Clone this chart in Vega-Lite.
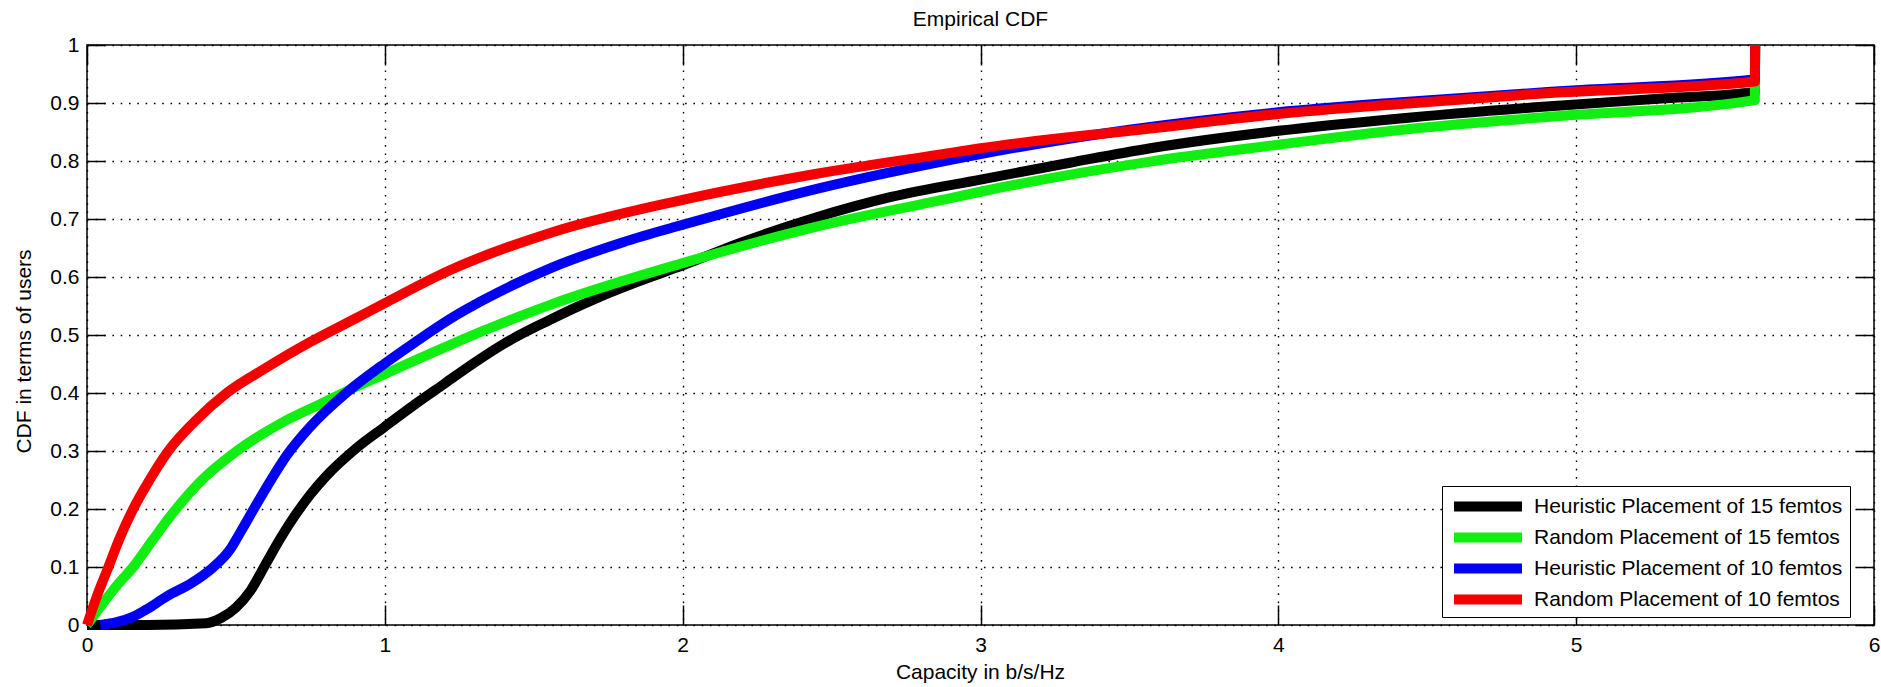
{
  "$schema": "https://vega.github.io/schema/vega-lite/v6.json",
  "autosize": "none",
  "width": 1787,
  "height": 580,
  "padding": {"left": 87, "top": 45, "right": 7, "bottom": 62},
  "background": "white",
  "config": {
    "view": {"stroke": "black", "strokeWidth": 1.5},
    "font": "Liberation Sans"
  },
  "data": {"values": [
    {"s": "Heuristic Placement of 15 femtos", "x": 0, "y": 0},
    {"s": "Heuristic Placement of 15 femtos", "x": 0.2, "y": 0},
    {"s": "Heuristic Placement of 15 femtos", "x": 0.4, "y": 0.003},
    {"s": "Heuristic Placement of 15 femtos", "x": 0.45, "y": 0.012},
    {"s": "Heuristic Placement of 15 femtos", "x": 0.5, "y": 0.03},
    {"s": "Heuristic Placement of 15 femtos", "x": 0.55, "y": 0.06},
    {"s": "Heuristic Placement of 15 femtos", "x": 0.6, "y": 0.105},
    {"s": "Heuristic Placement of 15 femtos", "x": 0.65, "y": 0.15},
    {"s": "Heuristic Placement of 15 femtos", "x": 0.7, "y": 0.19},
    {"s": "Heuristic Placement of 15 femtos", "x": 0.75, "y": 0.225},
    {"s": "Heuristic Placement of 15 femtos", "x": 0.8, "y": 0.255},
    {"s": "Heuristic Placement of 15 femtos", "x": 0.9, "y": 0.303},
    {"s": "Heuristic Placement of 15 femtos", "x": 1.0, "y": 0.342},
    {"s": "Heuristic Placement of 15 femtos", "x": 1.1, "y": 0.38},
    {"s": "Heuristic Placement of 15 femtos", "x": 1.2, "y": 0.416},
    {"s": "Heuristic Placement of 15 femtos", "x": 1.3, "y": 0.452},
    {"s": "Heuristic Placement of 15 femtos", "x": 1.4, "y": 0.485},
    {"s": "Heuristic Placement of 15 femtos", "x": 1.55, "y": 0.525},
    {"s": "Heuristic Placement of 15 femtos", "x": 1.7, "y": 0.561},
    {"s": "Heuristic Placement of 15 femtos", "x": 1.85, "y": 0.592},
    {"s": "Heuristic Placement of 15 femtos", "x": 2.0, "y": 0.62},
    {"s": "Heuristic Placement of 15 femtos", "x": 2.2, "y": 0.66},
    {"s": "Heuristic Placement of 15 femtos", "x": 2.45, "y": 0.703},
    {"s": "Heuristic Placement of 15 femtos", "x": 2.7, "y": 0.738},
    {"s": "Heuristic Placement of 15 femtos", "x": 3.0, "y": 0.768},
    {"s": "Heuristic Placement of 15 femtos", "x": 3.3, "y": 0.797},
    {"s": "Heuristic Placement of 15 femtos", "x": 3.57, "y": 0.822},
    {"s": "Heuristic Placement of 15 femtos", "x": 4.0, "y": 0.852},
    {"s": "Heuristic Placement of 15 femtos", "x": 4.4, "y": 0.873},
    {"s": "Heuristic Placement of 15 femtos", "x": 4.9, "y": 0.894},
    {"s": "Heuristic Placement of 15 femtos", "x": 5.3, "y": 0.908},
    {"s": "Heuristic Placement of 15 femtos", "x": 5.6, "y": 0.919},
    {"s": "Heuristic Placement of 15 femtos", "x": 5.601, "y": 1},
    {"s": "Random Placement of 15 femtos", "x": 0, "y": 0},
    {"s": "Random Placement of 15 femtos", "x": 0.05, "y": 0.035},
    {"s": "Random Placement of 15 femtos", "x": 0.1, "y": 0.068},
    {"s": "Random Placement of 15 femtos", "x": 0.155, "y": 0.1},
    {"s": "Random Placement of 15 femtos", "x": 0.22, "y": 0.146},
    {"s": "Random Placement of 15 femtos", "x": 0.279, "y": 0.187},
    {"s": "Random Placement of 15 femtos", "x": 0.38, "y": 0.247},
    {"s": "Random Placement of 15 femtos", "x": 0.503, "y": 0.3},
    {"s": "Random Placement of 15 femtos", "x": 0.648, "y": 0.347},
    {"s": "Random Placement of 15 femtos", "x": 0.8, "y": 0.385},
    {"s": "Random Placement of 15 femtos", "x": 0.9, "y": 0.41},
    {"s": "Random Placement of 15 femtos", "x": 1.0, "y": 0.433},
    {"s": "Random Placement of 15 femtos", "x": 1.22, "y": 0.483},
    {"s": "Random Placement of 15 femtos", "x": 1.33, "y": 0.507},
    {"s": "Random Placement of 15 femtos", "x": 1.555, "y": 0.552},
    {"s": "Random Placement of 15 femtos", "x": 2.0, "y": 0.624},
    {"s": "Random Placement of 15 femtos", "x": 2.45, "y": 0.687},
    {"s": "Random Placement of 15 femtos", "x": 2.9, "y": 0.736},
    {"s": "Random Placement of 15 femtos", "x": 3.0, "y": 0.747},
    {"s": "Random Placement of 15 femtos", "x": 3.57, "y": 0.799},
    {"s": "Random Placement of 15 femtos", "x": 4.0, "y": 0.828},
    {"s": "Random Placement of 15 femtos", "x": 4.4, "y": 0.853},
    {"s": "Random Placement of 15 femtos", "x": 4.9, "y": 0.876},
    {"s": "Random Placement of 15 femtos", "x": 5.6, "y": 0.905},
    {"s": "Random Placement of 15 femtos", "x": 5.601, "y": 1},
    {"s": "Heuristic Placement of 10 femtos", "x": 0.045, "y": 0},
    {"s": "Heuristic Placement of 10 femtos", "x": 0.1, "y": 0.005},
    {"s": "Heuristic Placement of 10 femtos", "x": 0.15, "y": 0.013},
    {"s": "Heuristic Placement of 10 femtos", "x": 0.2, "y": 0.027},
    {"s": "Heuristic Placement of 10 femtos", "x": 0.27, "y": 0.05},
    {"s": "Heuristic Placement of 10 femtos", "x": 0.35, "y": 0.072},
    {"s": "Heuristic Placement of 10 femtos", "x": 0.42, "y": 0.098},
    {"s": "Heuristic Placement of 10 femtos", "x": 0.48, "y": 0.13},
    {"s": "Heuristic Placement of 10 femtos", "x": 0.515, "y": 0.16},
    {"s": "Heuristic Placement of 10 femtos", "x": 0.56, "y": 0.2},
    {"s": "Heuristic Placement of 10 femtos", "x": 0.62, "y": 0.252},
    {"s": "Heuristic Placement of 10 femtos", "x": 0.67, "y": 0.292},
    {"s": "Heuristic Placement of 10 femtos", "x": 0.75, "y": 0.342},
    {"s": "Heuristic Placement of 10 femtos", "x": 0.87, "y": 0.4},
    {"s": "Heuristic Placement of 10 femtos", "x": 1.0, "y": 0.451},
    {"s": "Heuristic Placement of 10 femtos", "x": 1.1, "y": 0.487},
    {"s": "Heuristic Placement of 10 femtos", "x": 1.22, "y": 0.528},
    {"s": "Heuristic Placement of 10 femtos", "x": 1.33, "y": 0.56},
    {"s": "Heuristic Placement of 10 femtos", "x": 1.555, "y": 0.615},
    {"s": "Heuristic Placement of 10 femtos", "x": 1.8, "y": 0.66},
    {"s": "Heuristic Placement of 10 femtos", "x": 2.0, "y": 0.69},
    {"s": "Heuristic Placement of 10 femtos", "x": 2.45, "y": 0.752},
    {"s": "Heuristic Placement of 10 femtos", "x": 2.9, "y": 0.802},
    {"s": "Heuristic Placement of 10 femtos", "x": 3.0, "y": 0.812},
    {"s": "Heuristic Placement of 10 femtos", "x": 3.5, "y": 0.854},
    {"s": "Heuristic Placement of 10 femtos", "x": 4.0, "y": 0.884},
    {"s": "Heuristic Placement of 10 femtos", "x": 4.4, "y": 0.901},
    {"s": "Heuristic Placement of 10 femtos", "x": 5.0, "y": 0.922},
    {"s": "Heuristic Placement of 10 femtos", "x": 5.6, "y": 0.941},
    {"s": "Heuristic Placement of 10 femtos", "x": 5.601, "y": 1},
    {"s": "Random Placement of 10 femtos", "x": 0, "y": 0},
    {"s": "Random Placement of 10 femtos", "x": 0.03, "y": 0.045},
    {"s": "Random Placement of 10 femtos", "x": 0.072, "y": 0.1},
    {"s": "Random Placement of 10 femtos", "x": 0.11, "y": 0.15},
    {"s": "Random Placement of 10 femtos", "x": 0.155, "y": 0.2},
    {"s": "Random Placement of 10 femtos", "x": 0.21, "y": 0.25},
    {"s": "Random Placement of 10 femtos", "x": 0.273, "y": 0.3},
    {"s": "Random Placement of 10 femtos", "x": 0.36, "y": 0.35},
    {"s": "Random Placement of 10 femtos", "x": 0.469, "y": 0.4},
    {"s": "Random Placement of 10 femtos", "x": 0.6, "y": 0.443},
    {"s": "Random Placement of 10 femtos", "x": 0.75, "y": 0.488},
    {"s": "Random Placement of 10 femtos", "x": 0.9, "y": 0.528},
    {"s": "Random Placement of 10 femtos", "x": 1.0, "y": 0.555},
    {"s": "Random Placement of 10 femtos", "x": 1.22, "y": 0.612},
    {"s": "Random Placement of 10 femtos", "x": 1.555, "y": 0.676},
    {"s": "Random Placement of 10 femtos", "x": 2.0, "y": 0.733},
    {"s": "Random Placement of 10 femtos", "x": 2.45, "y": 0.778},
    {"s": "Random Placement of 10 femtos", "x": 2.9, "y": 0.814},
    {"s": "Random Placement of 10 femtos", "x": 3.0, "y": 0.822},
    {"s": "Random Placement of 10 femtos", "x": 3.57, "y": 0.856},
    {"s": "Random Placement of 10 femtos", "x": 4.0, "y": 0.881},
    {"s": "Random Placement of 10 femtos", "x": 4.4, "y": 0.898},
    {"s": "Random Placement of 10 femtos", "x": 4.9, "y": 0.917},
    {"s": "Random Placement of 10 femtos", "x": 5.6, "y": 0.937},
    {"s": "Random Placement of 10 femtos", "x": 5.601, "y": 1}
  ]},
  "layer": [
    {
      "transform": [{"filter": "datum.s === 'Heuristic Placement of 15 femtos'"}],
      "mark": {"type": "line", "strokeWidth": 10, "strokeJoin": "round", "interpolate": "monotone"},
      "encoding": {
        "x": {"field": "x", "type": "quantitative", "scale": {"domain": [0, 6], "nice": false, "zero": false},
          "axis": {"orient": "bottom", "values": [0, 1, 2, 3, 4, 5, 6], "title": "Capacity in b/s/Hz",
            "titleFontSize": 21, "titleFont": "Liberation Sans", "titleFontWeight": "normal", "titleColor": "black",
            "titleBaseline": "alphabetic", "titleY": 53, "titleX": 893, "titleAnchor": null,
            "labelFontSize": 21, "labelFont": "Liberation Sans", "labelColor": "black", "labelPadding": 29, "labelFlush": false,
            "tickSize": -20, "tickColor": "black", "tickWidth": 1.5, "domain": false,
            "grid": true, "gridColor": "black", "gridDash": [1.6, 6.7], "gridWidth": 1.4, "gridOpacity": 1, "format": "d"}},
        "y": {"field": "y", "type": "quantitative", "scale": {"domain": [0, 1], "nice": false},
          "axis": {"orient": "left", "values": [0, 0.1, 0.2, 0.3, 0.4, 0.5, 0.6, 0.7, 0.8, 0.9, 1], "format": "~f",
            "title": "CDF in terms of users", "titleFontSize": 21, "titleFont": "Liberation Sans", "titleFontWeight": "normal", "titleColor": "black",
            "titleAngle": -90, "titleBaseline": "alphabetic", "titleAlign": "center", "titleX": -57, "titleY": 306,
            "labelFontSize": 21, "labelFont": "Liberation Sans", "labelColor": "black", "labelPadding": 26, "labelFlush": false,
            "tickSize": -18, "tickColor": "black", "tickWidth": 1.5, "domain": false,
            "grid": true, "gridColor": "black", "gridDash": [1.6, 6.7], "gridWidth": 1.4, "gridOpacity": 1}},
        "color": {"field": "s", "type": "nominal",
          "scale": {"domain": ["Heuristic Placement of 15 femtos", "Random Placement of 15 femtos", "Heuristic Placement of 10 femtos", "Random Placement of 10 femtos"],
            "range": ["#000000", "#11ee11", "#0000f5", "#f50000"]},
          "legend": {"orient": "none", "legendX": 1355, "legendY": 441, "title": null,
            "symbolType": "M-1,0H7", "symbolSize": 289, "symbolStrokeWidth": 10,
            "labelFontSize": 21, "labelFont": "Liberation Sans", "labelColor": "black", "labelOffset": 58, "labelLimit": 0,
            "padding": 7, "rowPadding": 7, "strokeColor": "black", "fillColor": "white",
            "encode": {"symbols": {"update": {"strokeJoin": {"value": "round"}, "strokeCap": {"value": "butt"}}}}}},
        "order": {"field": "x", "type": "quantitative"}
      }
    },
    {
      "transform": [{"filter": "datum.s === 'Random Placement of 15 femtos'"}],
      "mark": {"type": "line", "strokeWidth": 10, "strokeJoin": "round", "interpolate": "monotone"},
      "encoding": {
        "x": {"field": "x", "type": "quantitative", "axis": null},
        "y": {"field": "y", "type": "quantitative", "axis": null},
        "color": {"field": "s", "type": "nominal"}
      }
    },
    {
      "transform": [{"filter": "datum.s === 'Heuristic Placement of 10 femtos'"}],
      "mark": {"type": "line", "strokeWidth": 10, "strokeJoin": "round", "interpolate": "monotone"},
      "encoding": {
        "x": {"field": "x", "type": "quantitative", "axis": null},
        "y": {"field": "y", "type": "quantitative", "axis": null},
        "color": {"field": "s", "type": "nominal"}
      }
    },
    {
      "transform": [{"filter": "datum.s === 'Random Placement of 10 femtos'"}],
      "mark": {"type": "line", "strokeWidth": 10, "strokeJoin": "round", "interpolate": "monotone"},
      "encoding": {
        "x": {"field": "x", "type": "quantitative", "axis": null},
        "y": {"field": "y", "type": "quantitative", "axis": null},
        "color": {"field": "s", "type": "nominal"}
      }
    },
    {
      "mark": {"type": "point", "opacity": 0},
      "encoding": {
        "x": {"field": "x", "type": "quantitative",
          "axis": {"orient": "top", "values": [0, 1, 2, 3, 4, 5, 6], "labels": false, "grid": false, "domain": false,
            "title": "Empirical CDF", "titleFontSize": 21, "titleFont": "Liberation Sans", "titleFontWeight": "normal", "titleColor": "black",
            "titleBaseline": "alphabetic", "titleY": -20, "titleX": 893, "titleAnchor": null, "titleAlign": "center",
            "tickSize": -20, "tickColor": "black", "tickWidth": 1.5}},
        "y": {"field": "y", "type": "quantitative",
          "axis": {"orient": "right", "values": [0, 0.1, 0.2, 0.3, 0.4, 0.5, 0.6, 0.7, 0.8, 0.9, 1], "labels": false, "title": null, "grid": false, "domain": false,
            "tickSize": -18, "tickColor": "black", "tickWidth": 1.5}}
      }
    }
  ],
  "resolve": {"axis": {"x": "independent", "y": "independent"}}
}
